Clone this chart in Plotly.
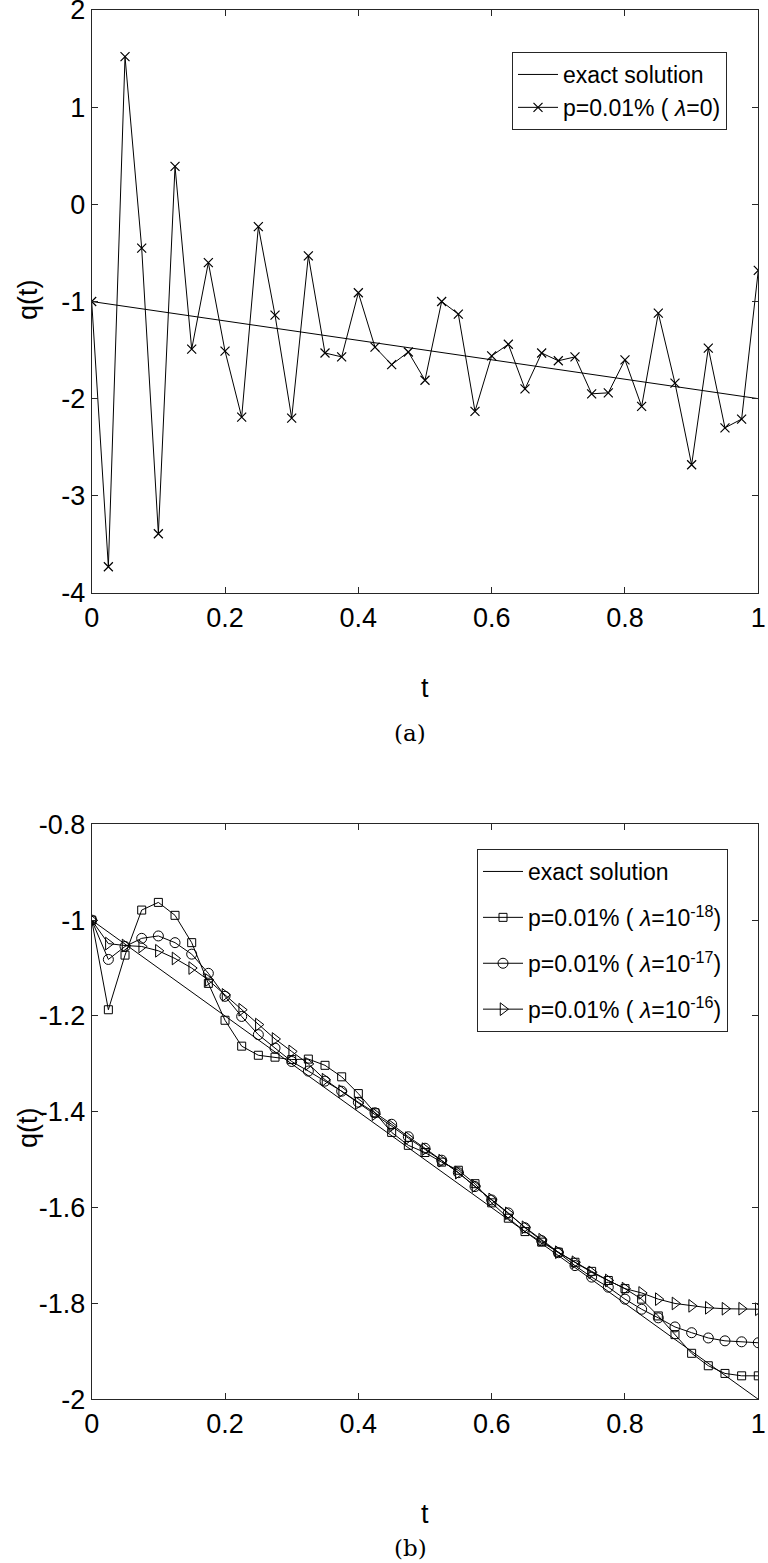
import plotly.graph_objects as go

# ---------------- data ----------------
t = [round(0.025 * k, 3) for k in range(41)]

exact_t = [0.0, 1.0]
exact_q = [-1.0, -2.0]

# (a) p=0.01%, lambda=0
q_lam0 = [-1.00, -3.73, 1.52, -0.45, -3.39, 0.39, -1.49, -0.60, -1.51, -2.19,
          -0.23, -1.14, -2.20, -0.53, -1.53, -1.57, -0.91, -1.47, -1.65, -1.52,
          -1.81, -1.00, -1.13, -2.13, -1.56, -1.44, -1.90, -1.53, -1.61, -1.57,
          -1.95, -1.94, -1.60, -2.08, -1.12, -1.84, -2.68, -1.48, -2.30, -2.21,
          -0.68]

# (b) p=0.01%, lambda=1e-18, 1e-17, 1e-16
q_lam18 = [-1.000, -1.187, -1.073, -0.979, -0.963, -0.990, -1.047, -1.132, -1.209, -1.263,
           -1.282, -1.286, -1.291, -1.290, -1.303, -1.327, -1.362, -1.402, -1.443, -1.470,
           -1.485, -1.505, -1.522, -1.550, -1.590, -1.622, -1.650, -1.672, -1.693, -1.714,
           -1.733, -1.752, -1.769, -1.791, -1.826, -1.865, -1.904, -1.930, -1.946, -1.951,
           -1.951]
q_lam17 = [-1.000, -1.082, -1.055, -1.038, -1.033, -1.047, -1.071, -1.111, -1.159, -1.201,
           -1.239, -1.267, -1.295, -1.315, -1.336, -1.357, -1.380, -1.402, -1.426, -1.452,
           -1.476, -1.501, -1.527, -1.556, -1.584, -1.611, -1.642, -1.669, -1.694, -1.721,
           -1.745, -1.766, -1.791, -1.812, -1.830, -1.849, -1.861, -1.872, -1.878, -1.880,
           -1.882]
q_lam16 = [-1.000, -1.049, -1.053, -1.055, -1.064, -1.080, -1.100, -1.125, -1.156, -1.187,
           -1.218, -1.248, -1.274, -1.300, -1.333, -1.357, -1.382, -1.405, -1.430, -1.455,
           -1.478, -1.502, -1.527, -1.555, -1.583, -1.612, -1.641, -1.667, -1.693, -1.714,
           -1.735, -1.752, -1.769, -1.778, -1.791, -1.800, -1.805, -1.809, -1.811, -1.811,
           -1.812]

x_ticks = [0, 0.2, 0.4, 0.6, 0.8, 1]
x_ticktext = ["0", "0.2", "0.4", "0.6", "0.8", "1"]
ya_ticks = [2, 1, 0, -1, -2, -3, -4]
ya_ticktext = ["2", "1", "0", "-1", "-2", "-3", "-4"]
yb_ticks = [-0.8, -1.0, -1.2, -1.4, -1.6, -1.8, -2.0]
yb_ticktext = ["-0.8", "-1", "-1.2", "-1.4", "-1.6", "-1.8", "-2"]

# ---------------- figure ----------------
W, H = 768, 1563
FONT = "Liberation Sans, Arial, sans-serif"
BLACK = "black"

fig = go.Figure()

fig.add_trace(go.Scatter(x=exact_t, y=exact_q, mode="lines", name="exact solution",
                         line=dict(color=BLACK, width=1), xaxis="x", yaxis="y",
                         legend="legend", legendgroup="a1"))
fig.add_trace(go.Scatter(x=t, y=q_lam0, mode="lines+markers",
                         name="p=0.01% ( <i>λ</i>=0)",
                         line=dict(color=BLACK, width=1),
                         marker=dict(symbol="x-thin-open", size=9, color=BLACK,
                                     line=dict(color=BLACK, width=1.2)),
                         xaxis="x", yaxis="y", legend="legend", legendgroup="a2"))

fig.add_trace(go.Scatter(x=exact_t, y=exact_q, mode="lines", name="exact solution",
                         line=dict(color=BLACK, width=1), xaxis="x2", yaxis="y2",
                         legend="legend2", legendgroup="b1"))
series_b = [
    (q_lam18, "square-open", 8, "p=0.01% ( <i>λ</i>=10<sup>-18</sup>)", "b2"),
    (q_lam17, "circle-open", 10, "p=0.01% ( <i>λ</i>=10<sup>-17</sup>)", "b3"),
    (q_lam16, "triangle-right-open", 11, "p=0.01% ( <i>λ</i>=10<sup>-16</sup>)", "b4"),
]
for ys, sym, sz, nm, grp in series_b:
    fig.add_trace(go.Scatter(x=t, y=ys, mode="lines+markers", name=nm,
                             line=dict(color=BLACK, width=1),
                             marker=dict(symbol=sym, size=sz, color=BLACK,
                                         line=dict(color=BLACK, width=1)),
                             xaxis="x2", yaxis="y2", legend="legend2", legendgroup=grp))

ax_common = dict(showgrid=False, zeroline=False, showline=True, linecolor="#262626",
                 linewidth=1.2, mirror="ticks", ticks="inside", ticklen=6,
                 tickcolor="#262626", tickwidth=1, automargin=False,
                 ticklabeloverflow="allow",
                 tickfont=dict(family=FONT, size=27, color=BLACK))

xdom = [91.7 / W, 758.3 / W]
fig.update_layout(
    width=W, height=H,
    margin=dict(l=0, r=0, t=0, b=0, autoexpand=False),
    paper_bgcolor="white", plot_bgcolor="white",
    showlegend=True,
    xaxis=dict(domain=xdom, range=[0, 1], tickvals=x_ticks, ticktext=x_ticktext,
               anchor="y", **ax_common),
    yaxis=dict(domain=[1 - 593 / H, 1 - 10 / H], range=[-4, 2], tickvals=ya_ticks,
               ticktext=ya_ticktext, anchor="x", **ax_common),
    xaxis2=dict(domain=xdom, range=[0, 1], tickvals=x_ticks, ticktext=x_ticktext,
                anchor="y2", **ax_common),
    yaxis2=dict(domain=[1 - 1399.3 / H, 1 - 824.3 / H], range=[-2, -0.8],
                tickvals=yb_ticks, ticktext=yb_ticktext, anchor="x2", **ax_common),
    legend=dict(x=512 / W, y=1 - 52 / H, xanchor="left", yanchor="top",
                bgcolor="white", bordercolor="#262626", borderwidth=1,
                font=dict(family=FONT, size=23, color=BLACK),
                tracegroupgap=0, itemwidth=40),
    legend2=dict(x=477 / W, y=1 - 849 / H, xanchor="left", yanchor="top",
                 bgcolor="white", bordercolor="#262626", borderwidth=1,
                 font=dict(family=FONT, size=23, color=BLACK),
                 tracegroupgap=13, itemwidth=40),
)

annots = [
    dict(text="q(t)", x=28 / W, y=1 - 300 / H, textangle=-90, size=27, family=FONT),
    dict(text="q(t)", x=28 / W, y=1 - 1128 / H, textangle=-90, size=27, family=FONT),
    dict(text="t", x=425 / W, y=1 - 688 / H, textangle=0, size=27, family=FONT),
    dict(text="t", x=425 / W, y=1 - 1514 / H, textangle=0, size=27, family=FONT),
    dict(text="(a)", x=410 / W, y=1 - 733 / H, textangle=0, size=23,
         family="DejaVu Serif, Liberation Serif, serif"),
    dict(text="(b)", x=410 / W, y=1 - 1548 / H, textangle=0, size=23,
         family="DejaVu Serif, Liberation Serif, serif"),
]
for a in annots:
    fig.add_annotation(text=a["text"], x=a["x"], y=a["y"], xref="paper", yref="paper",
                       xanchor="center", yanchor="middle", showarrow=False,
                       textangle=a["textangle"],
                       font=dict(family=a["family"], size=a["size"], color=BLACK))

fig.write_html("out.html", config={"displayModeBar": False},
               post_script="document.body.style.margin='0';document.body.style.overflow='hidden';")
